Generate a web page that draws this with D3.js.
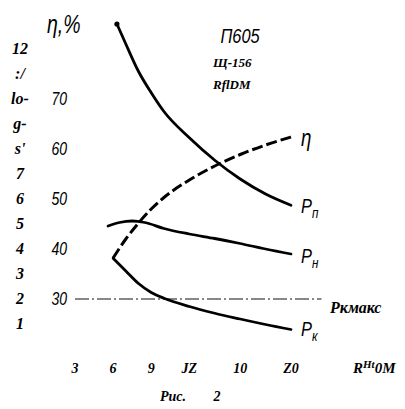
<!DOCTYPE html>
<html lang="ru">
<head>
  <meta charset="UTF-8">
  <title>Рис. 2</title>
  <script src="https://d3js.org/d3.v7.min.js"></script>
  <style>
    body { margin: 0; background: #fff; }
    .serif { font-family: "Liberation Serif", "DejaVu Serif", serif; font-style: italic; font-weight: bold; }
    .narrow { font-family: "Liberation Sans", "DejaVu Sans", sans-serif; font-style: italic; }
  </style>
</head>
<body>
  <script>
    // R axis (bottom) ticks, labels as printed
    const rTicks = [3, 6, 9, 12, 16, 20];
    const rTickLabels = ["3", "6", "9", "JZ", "10", "Z0"];

    // eta, % ticks
    const etaTicks = [30, 40, 50, 60, 70];

    // power axis (left column)
    const pTicks = [1, 2, 3, 4, 5, 6, 7, 8, 9, 10, 11, 12];
    const pTickLabels = ["1", "2", "3", "4", "5", "6", "7", "s'", "g-", "lo-", ":/", "12"];

    // curves
    const ppR = [6.3, 7, 8, 9, 10, 12, 14, 16, 18, 20];
    const ppVal = [13.0, 12.2, 11.1, 10.25, 9.5, 8.45, 7.55, 6.8, 6.2, 5.75];

    const etaR = [6, 7, 8, 9, 10, 12, 14, 16, 18, 20];
    const etaVal = [38.2, 42.0, 45.2, 48.0, 50.3, 53.8, 56.6, 58.9, 60.8, 62.4];

    const pnR = [5.6, 6.5, 7.5, 8.5, 10, 12, 14, 16, 18, 20];
    const pnVal = [4.92, 5.06, 5.12, 5.06, 4.82, 4.6, 4.42, 4.22, 4.0, 3.8];

    const pkR = [6, 7, 8, 9, 10, 12, 14, 16, 18, 20];
    const pkVal = [3.63, 3.12, 2.62, 2.26, 2.03, 1.7, 1.43, 1.2, 0.98, 0.78];

    const pkMaxR = [3, 22.4];
    const pkMaxVal = 2;

    var svg = d3.select("body").append("svg")
      .attr("width", 405)
      .attr("height", 409);

    // scales
    const x = d3.scaleLinear().domain([3, 20]).range([75, 291]);
    const yP = d3.scaleLinear().domain([0, 12]).range([349, 49]);
    const yEta = d3.scaleLinear().domain([30, 70]).range([299, 99]);

    const line = d3.line().curve(d3.curveMonotoneX);

    function pts(rs, vs, sc) {
      return rs.map((r, i) => [x(r), sc(vs[i])]);
    }

    // narrow italic text (squeezed horizontally)
    function narrow(px, py, size, anchor) {
      return svg.append("text").attr("class", "narrow")
        .attr("transform", "translate(" + px + "," + py + ") scale(0.78,1)")
        .attr("text-anchor", anchor || "start")
        .style("font-size", size + "px");
    }

    // Pk max dash-dot line
    svg.append("path")
      .attr("d", d3.line()(pkMaxR.map(r => [x(r), yP(pkMaxVal)])))
      .attr("stroke", "#111")
      .attr("stroke-width", 1.1)
      .attr("stroke-dasharray", "14 3 2 3")
      .attr("fill", "none");

    // solid curves
    [[ppR, ppVal], [pnR, pnVal], [pkR, pkVal]].forEach(function (c) {
      svg.append("path")
        .attr("d", line(pts(c[0], c[1], yP)))
        .attr("stroke", "#000")
        .attr("stroke-width", 2.8)
        .attr("stroke-linecap", "round")
        .attr("fill", "none");
    });

    // start dot on Pп
    svg.append("circle")
      .attr("cx", x(ppR[0]))
      .attr("cy", yP(ppVal[0]))
      .attr("r", 2.6);

    // eta dashed
    svg.append("path")
      .attr("d", line(pts(etaR, etaVal, yEta)))
      .attr("stroke", "#000")
      .attr("stroke-width", 3)
      .attr("stroke-dasharray", "11 4")
      .attr("fill", "none");

    // eta tick labels
    etaTicks.forEach(function (d) {
      narrow(67, yEta(d) + 6, 18, "end").text(d);
    });

    // power column
    svg.selectAll(".pTick")
      .data(pTicks)
      .enter().append("text")
      .attr("class", "serif")
      .attr("x", 20)
      .attr("y", d => yP(d) + 5)
      .attr("text-anchor", "middle")
      .style("font-size", "16px")
      .text((d, i) => pTickLabels[i]);

    // R tick labels
    svg.selectAll(".rTick")
      .data(rTicks)
      .enter().append("text")
      .attr("class", "serif")
      .attr("x", d => x(d))
      .attr("y", 373)
      .attr("text-anchor", "middle")
      .style("font-size", "14px")
      .text((d, i) => rTickLabels[i]);

    var rLab = svg.append("text").attr("class", "serif")
      .attr("x", 353).attr("y", 373).style("font-size", "15px");
    rLab.append("tspan").text("R");
    rLab.append("tspan").attr("dy", -5).style("font-size", "11px").text("Ht");
    rLab.append("tspan").attr("dy", 5).text("0M");

    // axis title eta
    narrow(47, 33, 25).text("η,%");

    // device labels
    narrow(240, 43, 21, "middle").text("П605");
    svg.append("text").attr("class", "serif")
      .attr("x", 213).attr("y", 67)
      .style("font-size", "13px")
      .text("Щ-156");
    svg.append("text").attr("class", "serif")
      .attr("x", 213).attr("y", 89)
      .style("font-size", "13px")
      .text("RflDM");

    // curve labels
    narrow(301, 146, 24).text("η");

    function pLabel(yy, sub) {
      var t = narrow(301, yy, 21);
      t.append("tspan").text("P");
      t.append("tspan").attr("dy", 5).style("font-size", "15px").text(sub);
    }
    pLabel(213, "п");
    pLabel(263, "н");
    pLabel(336, "к");

    svg.append("text").attr("class", "serif")
      .attr("x", 330).attr("y", 313)
      .style("font-size", "16px")
      .text("Pкмакс");

    // caption
    svg.append("text").attr("class", "serif")
      .attr("x", 160).attr("y", 401)
      .style("font-size", "14px")
      .text("Рис.");
    svg.append("text").attr("class", "serif")
      .attr("x", 217).attr("y", 401)
      .attr("text-anchor", "middle")
      .style("font-size", "14px")
      .text("2");
  </script>
</body>
</html>
